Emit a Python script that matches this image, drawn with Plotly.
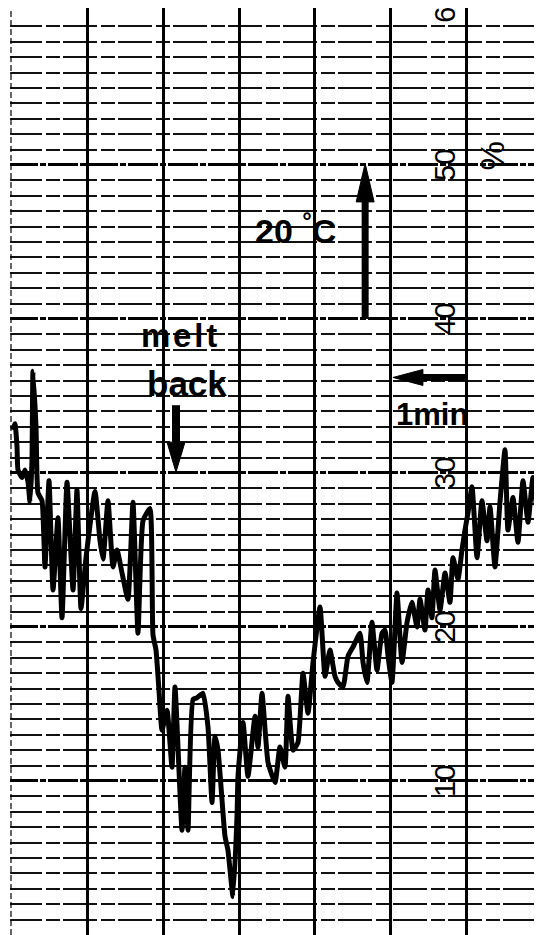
import plotly.graph_objects as go

# ---- data read from the recorder strip (time in minutes, signal in %) ----
time_min = [
    0.026, 0.053, 0.079, 0.092, 0.145, 0.184, 0.224, 0.250, 0.276, 0.289,
    0.329, 0.355, 0.408, 0.447, 0.500, 0.553, 0.618, 0.671, 0.737, 0.816,
    0.868, 0.921, 0.987, 1.105, 1.171, 1.211, 1.276, 1.342, 1.395, 1.461,
    1.539, 1.605, 1.671, 1.737, 1.829, 1.868, 1.908, 1.947, 1.987, 2.053,
    2.118, 2.158, 2.250, 2.289, 2.329, 2.395, 2.447, 2.526, 2.592, 2.645,
    2.684, 2.724, 2.816, 2.855, 2.921, 2.974, 2.987, 3.053, 3.118, 3.211,
    3.250, 3.303, 3.382, 3.474, 3.539, 3.605, 3.645, 3.711, 3.776, 3.842,
    3.908, 3.974, 4.066, 4.132, 4.197, 4.263, 4.303, 4.368, 4.434, 4.500,
    4.592, 4.632, 4.684, 4.750, 4.816, 4.882, 4.921, 4.961, 5.013, 5.079,
    5.145, 5.211, 5.276, 5.342, 5.382, 5.447, 5.487, 5.539, 5.579, 5.645,
    5.711, 5.776, 5.816, 5.882, 5.934, 5.974, 6.013, 6.066, 6.132, 6.197,
    6.263, 6.303, 6.368, 6.434, 6.500, 6.539, 6.605, 6.671, 6.737, 6.803,
    6.868, 6.934, 6.987,
]
signal_pct = [
    32.8, 33.2, 31.7, 30.2, 29.7, 30.2, 29.4, 28.1, 30.8, 36.6,
    33.0, 28.7, 28.2, 23.9, 29.5, 22.4, 27.1, 20.6, 29.4, 22.4,
    28.9, 21.2, 24.5, 28.8, 25.6, 24.4, 28.2, 23.9, 25.0, 23.5,
    21.8, 28.1, 19.6, 26.9, 27.7, 19.5, 18.5, 15.9, 13.3, 14.6,
    10.9, 16.1, 6.8, 10.9, 6.8, 15.3, 15.4, 15.7, 13.5, 8.6,
    12.9, 12.0, 6.4, 5.5, 2.5, 7.7, 10.3, 13.8, 10.3, 14.2,
    12.2, 15.7, 11.2, 9.9, 12.2, 10.9, 15.5, 12.0, 12.5, 17.0,
    14.4, 17.7, 21.3, 16.8, 18.5, 16.8, 16.4, 16.1, 18.1, 18.7,
    19.6, 17.7, 16.4, 20.3, 17.2, 19.6, 19.8, 18.1, 16.4, 22.2,
    17.7, 20.3, 21.6, 20.0, 21.8, 19.8, 22.4, 20.6, 23.7, 21.1,
    23.5, 21.6, 24.5, 23.1, 25.0, 26.3, 27.4, 29.1, 24.5, 28.2,
    25.6, 27.8, 23.9, 28.1, 31.5, 26.3, 28.4, 25.5, 29.5, 26.8,
    29.7, 27.1, 29.7,
]
scale_labels = ["10", "20", "30", "40", "50"]   # printed chart-paper scale
scale_values = [10, 20, 30, 40, 50]
minute_lines = [1, 2, 3, 4, 5, 6]

BIG = "Liberation Sans, Arial, sans-serif"

fig = go.Figure()
fig.add_trace(go.Scatter(
    x=time_min, y=signal_pct, mode="lines",
    line=dict(color="black", width=5, shape="spline", smoothing=0.45),
    hoverinfo="skip", showlegend=False,
))

minor_vals = [v for v in range(1, 60) if v % 10 != 0]

# page body has an 8px margin, so the figure is sized to fill the rest of the window
fig.update_layout(
    width=534, height=927, autosize=False,
    margin=dict(l=0, r=0, t=0, b=0),
    paper_bgcolor="white", plot_bgcolor="white",
    xaxis=dict(range=[-0.0395, 6.987], tickmode="array", tickvals=minute_lines,
               showticklabels=False, ticks="", showgrid=True,
               gridcolor="black", gridwidth=2.5, zeroline=False, showline=False,
               fixedrange=True),
    yaxis=dict(range=[0, 60.19], tickmode="array", tickvals=scale_values,
               showticklabels=False, ticks="", showgrid=True,
               gridcolor="black", gridwidth=3.2, griddash="30px,2px,6px,2px",
               zeroline=False, showline=False, fixedrange=True,
               minor=dict(tickmode="array", tickvals=minor_vals, showgrid=True,
                          gridcolor="#111111", gridwidth=1.6,
                          griddash="34px,4px,14px,3px", ticks="")),
)

# blank strip at the left of the first (thin, dashed) paper line
fig.add_shape(type="rect", xref="x", yref="y", x0=-0.2, x1=-0.012, y0=-1, y1=62,
              fillcolor="white", line=dict(width=0), layer="between")
fig.add_shape(type="line", xref="x", yref="y", x0=0, x1=0, y0=0, y1=60.19,
              line=dict(color="black", width=1.2, dash="6px,3px"), layer="between")

# arrows (scale and time bars)
def arrow_v(x, y_tail, y_base, y_tip, half_w, w):
    fig.add_shape(type="line", xref="x", yref="y", x0=x, x1=x, y0=y_tail, y1=y_base,
                  line=dict(color="black", width=w), layer="above")
    fig.add_shape(type="path", xref="x", yref="y",
                  path=f"M {x-half_w},{y_base} L {x},{y_tip} L {x+half_w},{y_base} Z",
                  fillcolor="black", line=dict(color="black", width=1), layer="above")

arrow_v(4.66, 40.0, 47.6, 50.1, 0.118, 7)      # 20 °C bar
arrow_v(2.171, 34.4, 32.0, 30.05, 0.118, 8)    # melt back marker

# 1 min arrow (pointing left)
fig.add_shape(type="line", xref="x", yref="y", x0=6.01, x1=5.40, y0=36.2, y1=36.2,
              line=dict(color="black", width=7), layer="above")
fig.add_shape(type="path", xref="x", yref="y",
              path="M 5.42,36.72 L 5.026,36.2 L 5.42,35.68 Z",
              fillcolor="black", line=dict(color="black", width=1), layer="above")

HS = "\u200a"
ann = []
ann.append(dict(x=3.74, y=45.9, text="<b>20 <sup>°</sup>C</b>",
                font=dict(family=BIG, size=34, color="black")))
ann.append(dict(x=2.21, y=38.9, text="<b>m" + HS + "e" + HS + "l" + HS + "t</b>",
                font=dict(family=BIG, size=33, color="black")))
ann.append(dict(x=2.32, y=35.8, text="<b>back</b>",
                font=dict(family=BIG, size=35, color="black")))
ann.append(dict(x=5.546, y=33.8, text="<b>1min</b>",
                font=dict(family=BIG, size=31, color="black")))
for lab, v in zip(scale_labels, scale_values):
    ann.append(dict(x=5.71, y=v, text=lab, textangle=-90,
                    font=dict(family=BIG, size=29, color="black")))
ann.append(dict(x=5.71, y=59.75, text="6", textangle=-90,
                font=dict(family=BIG, size=29, color="black")))
ann.append(dict(x=6.34, y=50.6, text="%", textangle=-90,
                font=dict(family=BIG, size=33, color="black")))
for a in ann:
    a.update(xref="x", yref="y", showarrow=False, xanchor="center", yanchor="middle")
fig.update_layout(annotations=ann)

fig.write_html("out.html")
